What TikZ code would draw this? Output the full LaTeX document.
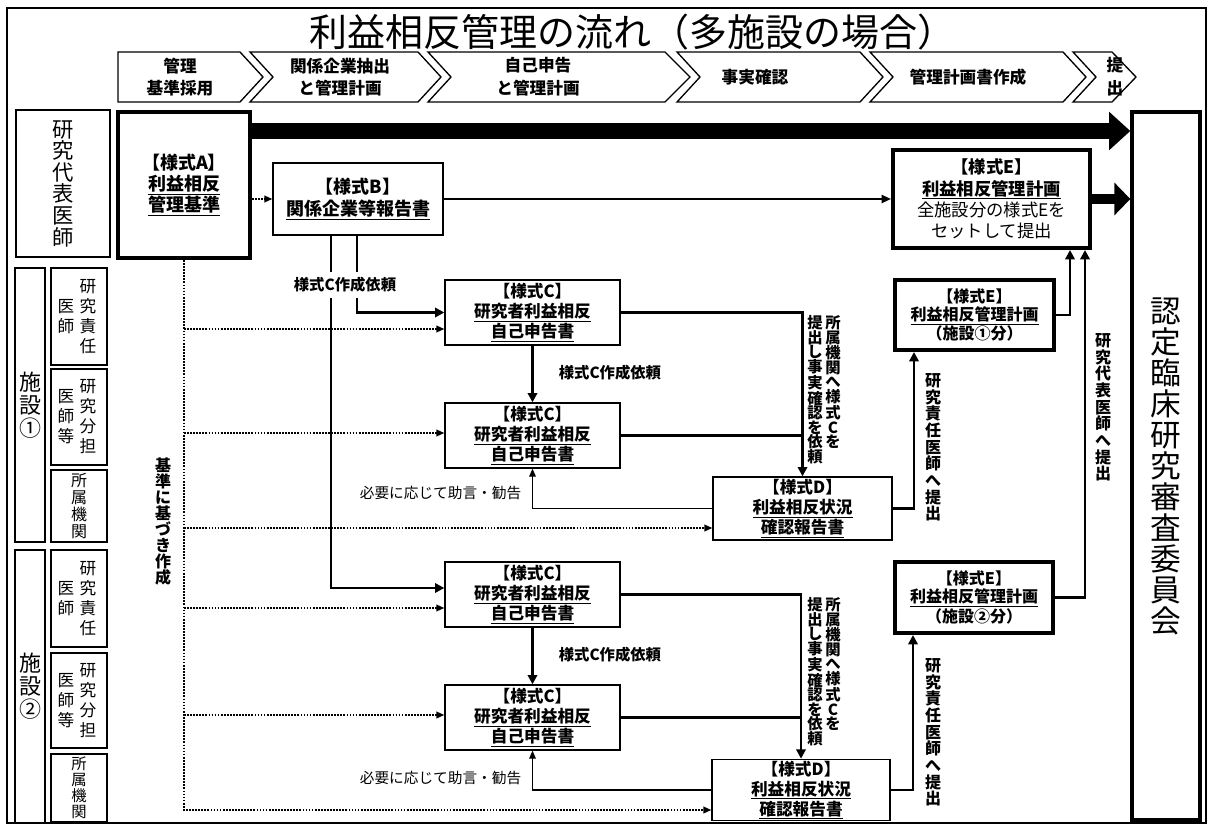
\documentclass[tikz,border=0pt]{standalone}
\usepackage{fontspec}
\setmainfont{Noto Sans CJK JP}
\usetikzlibrary{arrows.meta}

\tikzset{every picture/.style={line width=0.75pt}}
\tikzset{
  formbox/.style={draw, line width=1pt, align=center, inner sep=1pt, font=\fontsize{12.5}{15}\selectfont\bfseries},
  heavybox/.style={formbox, line width=3pt},
  rolebox/.style={draw, line width=1pt, minimum width=42pt},
  coltext/.style={align=center, inner sep=0pt, font=\fontsize{12.5}{15}\selectfont},
  stage/.style={align=center, inner sep=0pt, font=\fontsize{12.5}{17}\selectfont\bfseries},
  vnote/.style={align=center, inner sep=0pt, anchor=north},
  note/.style={inner sep=4pt, font=\fontsize{11.5}{14}\selectfont\bfseries},
  flow/.style={line width=2pt, -{Triangle[length=7pt,width=7pt]}},
  thinflow/.style={line width=0.8pt, -{Triangle[length=6pt,width=5pt]}},
  refline/.style={densely dotted, line width=1.3pt},
  refarrow/.style={refline, -{Triangle[length=6pt,width=5pt]}},
}

\begin{document}
\begin{tikzpicture}[x=0.75pt,y=0.75pt,yscale=-1,xscale=1]
\useasboundingbox (0,0) rectangle (1209,827);

%Shape: Rectangle
\draw [line width=1.5pt] (7,8) rectangle (1206,823);

% Text Node
\draw (632,32) node [font=\fontsize{28.5}{30}\selectfont] (title) {利益相反管理の流れ（多施設の場合）};

%Shape: Chevrons
\draw [line width=1pt] (118,52) -- (240,52) -- (263,77) -- (240,102) -- (118,102) -- cycle;
\draw [line width=1pt] (250,52) -- (418,52) -- (441,77) -- (418,102) -- (250,102) -- (273,77) -- cycle;
\draw [line width=1pt] (428,52) -- (665,52) -- (690,77) -- (665,102) -- (428,102) -- (451,77) -- cycle;
\draw [line width=1pt] (677,52) -- (860,52) -- (883,77) -- (860,102) -- (677,102) -- (700,77) -- cycle;
\draw [line width=1pt] (870,52) -- (1063,52) -- (1086,77) -- (1063,102) -- (870,102) -- (893,77) -- cycle;
\draw [line width=1pt] (1073,52) -- (1112,52) -- (1136,77) -- (1112,102) -- (1073,102) -- (1096,77) -- cycle;

% Text Node
\draw (180,77) node [stage] (stageAdopt) {管理\\基準採用};
\draw (340,77) node [stage] (stageExtract) {関係企業抽出\\と管理計画};
\draw (538,77) node [stage] (stageDeclare) {自己申告\\と管理計画};
\draw (755,77) node [stage] (stageCheck) {事実確認};
\draw (968,77) node [stage] (stagePlan) {管理計画書作成};
\draw (1115,77) node [stage] (stageSubmit) {提\\出};

%Shape: Rectangle (left column)
\draw (63,183.5) node [rolebox, minimum width=70.5pt, minimum height=110.25pt, coltext, font=\fontsize{16}{16.2}\selectfont] (leadDoctor) {研\\究\\代\\表\\医\\師};
\draw (30,405) node [rolebox, minimum width=22.5pt, minimum height=205.5pt, coltext, font=\fontsize{16.5}{17.25}\selectfont] (siteOne) {施\\設\\①};
\draw (30,686.5) node [rolebox, minimum width=22.5pt, minimum height=204.75pt, coltext, font=\fontsize{16.5}{17.25}\selectfont] (siteTwo) {施\\設\\②};

\draw (79,316.5) node [rolebox, minimum height=72.75pt] (oneChief) {};
\draw (88,316.5) node [coltext] (oneChiefA) {研\\究\\責\\任};
\draw (66,316.5) node [coltext] (oneChiefB) {医\\師};
\draw (79,417) node [rolebox, minimum height=72pt] (oneSub) {};
\draw (88,417) node [coltext] (oneSubA) {研\\究\\分\\担};
\draw (66,417) node [coltext] (oneSubB) {医\\師\\等};
\draw (79,506) node [rolebox, minimum height=54pt] (oneInst) {};
\draw (79,506) node [coltext, font=\fontsize{12}{12.8}\selectfont] (oneInstA) {所\\属\\機\\関};

\draw (79,598.5) node [rolebox, minimum height=72.75pt] (twoChief) {};
\draw (88,598.5) node [coltext] (twoChiefA) {研\\究\\責\\任};
\draw (66,598.5) node [coltext] (twoChiefB) {医\\師};
\draw (79,700.5) node [rolebox, minimum height=71.25pt] (twoSub) {};
\draw (88,700.5) node [coltext] (twoSubA) {研\\究\\分\\担};
\draw (66,700.5) node [coltext] (twoSubB) {医\\師\\等};
\draw (79,788) node [rolebox, minimum height=51pt] (twoInst) {};
\draw (79,788) node [coltext, font=\fontsize{11.5}{12}\selectfont] (twoInstA) {所\\属\\機\\関};

%Shape: Rectangle (forms)
\draw (184,185) node [heavybox, minimum width=99pt, minimum height=109.5pt, font=\fontsize{13.5}{16}\selectfont\bfseries] (formA) {【様式A】\\\underline{利益相反}\\\underline{管理基準}};
\draw (358,199) node [formbox, minimum width=127.5pt, minimum height=54pt, font=\fontsize{13.5}{16}\selectfont\bfseries] (formB) {【様式B】\\\underline{関係企業等報告書}};
\draw (991.5,199) node [heavybox, minimum width=147.75pt, minimum height=73.5pt, font=\fontsize{13}{16}\selectfont\bfseries] (formE) {【様式E】\\\underline{利益相反管理計画}\\{\mdseries 全施設分の様式Eを}\\{\mdseries セットして提出}};
\draw (974.5,315) node [heavybox, minimum width=119.25pt, minimum height=52.5pt, font=\fontsize{12}{13.5}\selectfont\bfseries] (formEOne) {【様式E】\\\underline{利益相反管理計画}\\（施設①分）};
\draw (974,597.5) node [heavybox, minimum width=118.5pt, minimum height=53.25pt, font=\fontsize{12}{13.5}\selectfont\bfseries] (formETwo) {【様式E】\\\underline{利益相反管理計画}\\（施設②分）};
\draw (1166,466) node [draw, line width=2.5pt, minimum width=51pt, minimum height=531pt, coltext, font=\fontsize{23}{23.25}\selectfont] (committee) {認\\定\\臨\\床\\研\\究\\審\\査\\委\\員\\会};

\draw (532.5,312.5) node [formbox, minimum width=131.25pt, minimum height=48.75pt] (formCOne) {【様式C】\\\underline{研究者利益相反}\\\underline{自己申告書}};
\draw (532.5,435.5) node [formbox, minimum width=131.25pt, minimum height=48.75pt] (formCTwo) {【様式C】\\\underline{研究者利益相反}\\\underline{自己申告書}};
\draw (802.5,508.5) node [formbox, minimum width=134.25pt, minimum height=47.25pt] (formDOne) {【様式D】\\\underline{利益相反状況}\\\underline{確認報告書}};
\draw (532.5,594.5) node [formbox, minimum width=131.25pt, minimum height=48.75pt] (formCThree) {【様式C】\\\underline{研究者利益相反}\\\underline{自己申告書}};
\draw (532.5,717.5) node [formbox, minimum width=131.25pt, minimum height=48.75pt] (formCFour) {【様式C】\\\underline{研究者利益相反}\\\underline{自己申告書}};
\draw (801,790) node [formbox, minimum width=133.5pt, minimum height=45pt] (formDTwo) {【様式D】\\\underline{利益相反状況}\\\underline{確認報告書}};

%Straight Lines (top)
\draw [line width=12pt, -{Triangle[length=16pt,width=28pt]}] (formA.east |- 0,131) -- (committee.west |- 0,131);
\draw [refarrow] (formA.east |- formB.west) -- (formB.west);
\draw [line width=1.5pt, -{Triangle[length=7pt,width=6pt]}] (formB.east) -- (formE.west);
\draw [line width=7.5pt, -{Triangle[length=12pt,width=24pt]}] (formE.east) -- (committee.west |- formE.east);

% Text Node
\draw (345,285) node [note] (reqLabel) {様式C作成依頼};
%Straight Lines
\draw [line width=2pt] (formB.south -| 331,0) -- (reqLabel.north -| 331,0);
\draw [line width=2pt] (formB.south -| 357,0) -- (reqLabel.north -| 357,0);
\draw [flow] (reqLabel.south -| 357,0) |- (formCOne.west);
\draw [flow] (reqLabel.south -| 331,0) |- (formCThree.west |- 0,588);

%Dotted Lines
\draw [refarrow] (formA.south) |- (formDTwo.west |- 0,810);
\draw [refarrow] (formA.south |- 0,329) -- (formCOne.west |- 0,329);
\draw [refarrow] (formA.south |- 0,433) -- (formCTwo.west |- 0,433);
\draw [refarrow] (formA.south |- 0,528) -- (formDOne.west |- 0,528);
\draw [refarrow] (formA.south |- 0,608) -- (formCThree.west |- 0,608);
\draw [refarrow] (formA.south |- 0,715) -- (formCFour.west |- 0,715);
% Text Node
\draw (163,457) node [vnote, font=\fontsize{12}{12}\selectfont\bfseries] (standardLabel) {基\\準\\に\\基\\づ\\き\\作\\成};

%Straight Lines (site 1)
\draw [flow] (formCOne.south) -- (formCTwo.north);
\draw [flow] (formCOne.east) -| (formDOne.north);
\draw [line width=2pt] (formCTwo.east) -- (formDOne.north |- formCTwo.east);
\draw [thinflow] (formDOne.west) -| (formCTwo.south);
\draw [flow] (formDOne.east) -| (formEOne.south -| 914,0);
\draw [flow] (formEOne.east) -| (formE.south -| 1070,0);
\draw [flow] (formETwo.east) -| (formE.south -| 1085,0);
% Text Node
\draw (553,373) node [anchor=west, note] (reqLabelOne) {様式C作成依頼};
\draw (833,315) node [vnote, font=\fontsize{11.5}{10.9}\selectfont\bfseries] (factReqA) {所\\属\\機\\関\\へ\\様\\式\\C\\を};
\draw (815,315) node [vnote, font=\fontsize{11.5}{10.9}\selectfont\bfseries] (factReqB) {提\\出\\し\\事\\実\\確\\認\\を\\依\\頼};
\draw (527,493) node [anchor=east, note, font=\fontsize{11}{13}\selectfont] (adviceOne) {必要に応じて助言・勧告};
\draw (933,373) node [vnote, font=\fontsize{12}{12.5}\selectfont\bfseries] (chiefSubmitOne) {研\\究\\責\\任\\医\\師\\へ\\提\\出};
\draw (1103,333) node [vnote, font=\fontsize{12}{12.5}\selectfont\bfseries] (leadSubmit) {研\\究\\代\\表\\医\\師\\へ\\提\\出};

%Straight Lines (site 2)
\draw [flow] (formCThree.south) -- (formCFour.north);
\draw [flow] (formCThree.east) -| (formDTwo.north);
\draw [line width=2pt] (formCFour.east) -- (formDTwo.north |- formCFour.east);
\draw [thinflow] (formDTwo.west) -| (formCFour.south);
\draw [flow] (formDTwo.east) -| (formETwo.south -| 913,0);
% Text Node
\draw (553,655) node [anchor=west, note] (reqLabelTwo) {様式C作成依頼};
\draw (833,597) node [vnote, font=\fontsize{11.5}{10.9}\selectfont\bfseries] (factReqC) {所\\属\\機\\関\\へ\\様\\式\\C\\を};
\draw (815,597) node [vnote, font=\fontsize{11.5}{10.9}\selectfont\bfseries] (factReqD) {提\\出\\し\\事\\実\\確\\認\\を\\依\\頼};
\draw (527,778) node [anchor=east, note, font=\fontsize{11}{13}\selectfont] (adviceTwo) {必要に応じて助言・勧告};
\draw (933,658) node [vnote, font=\fontsize{12}{12.5}\selectfont\bfseries] (chiefSubmitTwo) {研\\究\\責\\任\\医\\師\\へ\\提\\出};

\end{tikzpicture}
\end{document}
